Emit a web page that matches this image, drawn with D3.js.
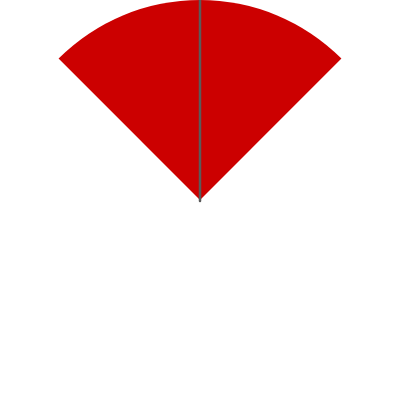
<!DOCTYPE html>
<html>
<head>
<meta charset="utf-8">
<script src="https://cdn.jsdelivr.net/npm/d3@7"></script>
<style>
  body { margin: 0; background: #fff; }
</style>
</head>
<body>
<script>
var width = 400,
    height = 400;

// gauge data
var gaugeRange = [0, 100];
var bandFrom = [0];
var bandTo = [100];
var bandColors = ["#cc0000"];
var needleValue = [50];

var svg = d3.select("body")
    .append("svg")
    .attr("width", width)
    .attr("height", height);

var g = svg.append("g")
    .attr("transform", "translate(200,200)");

var angle = d3.scaleLinear()
    .domain(gaugeRange)
    .range([-Math.PI / 4, Math.PI / 4]);

var radius = 200;

var arc = d3.arc()
    .innerRadius(0)
    .outerRadius(radius);

g.selectAll(".band")
    .data(bandFrom)
    .enter().append("path")
    .attr("class", "band")
    .attr("d", (d, i) => arc({startAngle: angle(d), endAngle: angle(bandTo[i])}))
    .attr("fill", (d, i) => bandColors[i]);

// needle
g.selectAll(".needle")
    .data(needleValue)
    .enter().append("line")
    .attr("class", "needle")
    .attr("x1", 0)
    .attr("y1", 1)
    .attr("x2", d => radius * Math.sin(angle(d)))
    .attr("y2", d => -radius * Math.cos(angle(d)))
    .attr("stroke", "#5a5a5a")
    .attr("stroke-width", 2.5)
    .attr("stroke-linecap", "round");
</script>
</body>
</html>
